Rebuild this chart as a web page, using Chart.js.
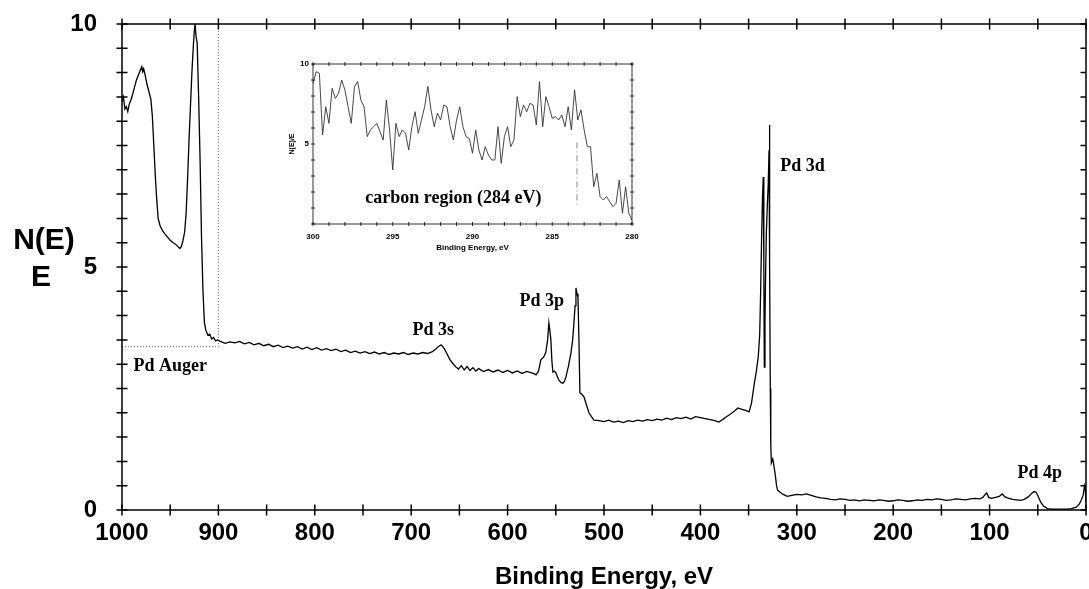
<!DOCTYPE html>
<html>
<head>
<meta charset="utf-8">
<script src="https://cdn.jsdelivr.net/npm/chart.js@4.4.1/dist/chart.umd.min.js"></script>
<style>
  body { margin: 0; background: #fff; }
  #wrap { position: relative; width: 1089px; height: 589px; }
  canvas { position: absolute; }
</style>
</head>
<body>
<div id="wrap">
  <canvas id="main" width="1089" height="589" style="left:0;top:0"></canvas>
  <canvas id="inset" width="400" height="230" style="left:260px;top:40px"></canvas>
</div>
<script>
// survey spectrum, binding energy (eV) and N(E)/E
var energy = [
  1000, 998.5, 997, 995.5, 994, 992.5, 991, 989, 987, 985, 983, 981, 979.5, 978.5, 977.5, 976, 974, 972, 970,
  968.5, 967, 965.5, 964, 962.5, 960.5, 958, 955.5, 953, 950, 947, 944.5, 942, 940, 938.5, 937, 935, 933.5,
  932, 930.5, 929, 927.5, 926, 925, 924.2, 923.2, 922, 920.5, 919, 917.5, 916, 914.5, 913, 911, 909, 907,
  905, 903, 901,
  898, 893, 888, 883, 878, 873, 868, 863, 858, 853, 848, 843, 838, 833, 828, 823, 818, 813, 808, 803, 798,
  793, 788, 783, 778, 773, 768, 763, 758, 753, 748, 743, 738, 733, 728, 723, 718, 713, 708, 703, 698, 693,
  688, 683, 678, 675, 672, 669, 666, 663, 660, 657, 654, 651, 648, 645, 642, 639, 636, 633, 630, 625, 620,
  615, 610, 605, 600, 595, 590, 585, 580,
  575, 572, 570.5, 568, 565.5, 562.5, 560.3, 558.5, 557.2, 556.2, 555.1, 554, 553, 551.5, 549.9, 548.5,
  546.8, 544.5, 542.6, 541, 539.5, 537, 534.3, 532.5, 531.2, 530, 529.1, 528, 527, 526, 525, 523, 520.8,
  518, 515.6, 513, 510.4,
  505, 500, 495, 490, 485, 480, 475, 470, 465, 460, 455, 450, 445, 440, 435, 430, 425, 420, 415, 410, 405,
  400, 395, 390, 385, 381, 377, 373, 369, 365, 361, 357, 353, 349.5, 347, 344, 342, 340, 338.5, 337.5,
  336.5, 335.5, 334.8, 334.2, 333.7, 333, 332.4, 331.6, 330.5, 329.6, 328.8, 328.4, 328, 327.5, 327, 326.4,
  325, 324, 322.5, 321, 320,
  317, 314, 310, 305, 300, 295, 290, 285, 280, 275, 270, 265, 260, 255, 250, 245, 240, 235, 230, 225, 220,
  215, 210, 205, 200, 195, 190, 185, 180, 175, 170, 165, 160, 155, 150, 145, 140, 135, 130, 125, 120, 115,
  110, 107, 105, 103, 101, 98, 94, 90, 87, 84, 80, 76, 72, 68, 64, 60, 57, 54, 52, 50, 47, 44, 40, 35, 30,
  25, 20, 15, 10, 7, 5, 3, 1.5, 0.8, 0
];
var intensity = [
  8.40, 8.50, 8.25, 8.30, 8.20, 8.35, 8.42, 8.55, 8.70, 8.85, 8.95, 9.05, 9.12, 9.02, 9.08, 8.95, 8.75, 8.60, 8.45,
  8.10, 7.50, 6.90, 6.40, 6.00, 5.85, 5.75, 5.68, 5.62, 5.55, 5.50, 5.47, 5.42, 5.38, 5.42, 5.52, 5.72, 6.10,
  6.80, 7.60, 8.30, 9.00, 9.55, 9.85, 10.0, 9.75, 9.60, 8.50, 7.20, 5.60, 4.50, 3.85, 3.70, 3.60, 3.62, 3.52,
  3.55, 3.48, 3.50,
  3.47, 3.43, 3.46, 3.44, 3.47, 3.42, 3.45, 3.40, 3.43, 3.38, 3.41, 3.36, 3.39, 3.34, 3.37, 3.33, 3.36, 3.31, 3.35, 3.30, 3.34,
  3.29, 3.32, 3.28, 3.31, 3.26, 3.29, 3.24, 3.27, 3.23, 3.26, 3.22, 3.25, 3.21, 3.24, 3.20, 3.23, 3.21, 3.24, 3.20, 3.23, 3.21,
  3.24, 3.22, 3.26, 3.30, 3.36, 3.40, 3.33, 3.22, 3.10, 3.02, 2.95, 2.90, 2.97, 2.88, 2.95, 2.87, 2.93, 2.86, 2.91, 2.85, 2.89,
  2.84, 2.88, 2.83, 2.87, 2.82, 2.86, 2.81, 2.85,
  2.82, 2.80, 2.78, 2.85, 3.09, 3.15, 3.25, 3.50, 3.85, 3.70, 3.50, 3.05, 2.84, 2.86, 2.82, 2.75,
  2.67, 2.62, 2.61, 2.65, 2.74, 2.95, 3.23, 3.50, 3.85, 4.20, 4.57, 4.45, 4.38, 3.50, 2.41, 2.38, 2.33,
  2.15, 2.00, 1.92, 1.85,
  1.84, 1.82, 1.85, 1.81, 1.83, 1.80, 1.84, 1.82, 1.85, 1.83, 1.86, 1.84, 1.87, 1.85, 1.89, 1.86, 1.90, 1.88, 1.91, 1.87, 1.92,
  1.90, 1.88, 1.86, 1.84, 1.81, 1.86, 1.92, 1.97, 2.03, 2.10, 2.07, 2.05, 2.02, 2.20, 2.61, 2.85, 3.15, 3.60, 4.50,
  5.60, 6.50, 6.85, 5.00, 2.94, 3.90, 4.80, 5.70, 6.30, 6.73, 7.40, 7.92, 5.00, 2.50, 1.35, 0.97,
  1.05, 0.95, 0.75, 0.50, 0.41,
  0.36, 0.32, 0.28, 0.30, 0.32, 0.31, 0.33, 0.30, 0.27, 0.25, 0.24, 0.22, 0.21, 0.23, 0.22, 0.20, 0.21, 0.19, 0.21, 0.20, 0.19,
  0.21, 0.20, 0.18, 0.19, 0.21, 0.20, 0.18, 0.19, 0.21, 0.20, 0.22, 0.21, 0.23, 0.22, 0.20, 0.21, 0.23, 0.22, 0.21, 0.23, 0.24,
  0.23, 0.26, 0.31, 0.35, 0.26, 0.24, 0.26, 0.28, 0.33, 0.27, 0.24, 0.22, 0.21, 0.20, 0.22, 0.27, 0.33, 0.38, 0.37, 0.30, 0.16, 0.08, 0.03, 0.02, 0.02,
  0.02, 0.02, 0.03, 0.06, 0.12, 0.20, 0.30, 0.50, 0.45, 0.15
];

// dotted window marking the Pd Auger region
var augerEnergy = [1000, 900, 900];
var augerLevel = [3.36, 3.36, 10];

// peak labels: text, energy, N(E)/E at the text baseline
var peakText = ['Pd Auger', 'Pd 3s', 'Pd 3p', 'Pd 3d', 'Pd 4p'];
var peakEnergy = [950, 677, 564.5, 294, 48];
var peakLevel = [2.86, 3.6, 4.2, 6.98, 0.66];

// inset: carbon region
var carbonEnergy = [
  300, 299.8, 299.6, 299.4, 299.2, 299, 298.8, 298.6, 298.4, 298.2, 298, 297.8, 297.6, 297.4, 297.2, 297,
  296.8, 296.6, 296.4, 296.2, 296, 295.8, 295.6, 295.4, 295.2, 295, 294.8, 294.6, 294.4, 294.2, 294,
  293.8, 293.6, 293.4, 293.2, 293, 292.8, 292.6, 292.4, 292.2, 292, 291.8, 291.6, 291.4, 291.2, 291,
  290.8, 290.6, 290.4, 290.2, 290, 289.8, 289.6, 289.4, 289.2, 289, 288.8, 288.6, 288.4, 288.2, 288,
  287.8, 287.6, 287.4, 287.2, 287, 286.8, 286.6, 286.4, 286.2, 286, 285.8, 285.6, 285.4, 285.2, 285,
  284.8, 284.6, 284.4, 284.2, 284, 283.8, 283.6, 283.4, 283.2, 283, 282.8, 282.6, 282.4, 282.2, 282,
  281.8, 281.6, 281.4, 281.2, 281, 280.8, 280.6, 280.4, 280.2, 280
];
var carbonIntensity = [
  8.79, 9.52, 9.42, 5.56, 7.33, 6.29, 8.48, 7.85, 8.17, 9.00, 8.38, 7.33, 6.29, 8.58, 8.90, 7.75,
  7.33, 5.46, 5.88, 6.08, 6.29, 5.77, 5.25, 7.75, 5.88, 3.38, 6.29, 5.46, 5.88, 5.67, 4.63,
  6.08, 7.02, 5.67, 6.50, 7.33, 8.60, 7.13, 6.08, 6.92, 6.50, 7.44, 7.33, 6.08, 5.25, 6.50,
  7.33, 6.08, 5.46, 5.35, 4.42, 5.88, 4.63, 4.00, 4.83, 4.31, 4.00, 4.00, 6.08, 3.79, 5.46,
  6.08, 4.83, 5.25, 7.96, 6.71, 7.44, 7.02, 7.54, 7.44, 6.19, 8.90, 6.08, 7.96, 7.33, 6.60,
  6.71, 6.50, 6.81, 6.08, 7.33, 5.88, 8.38, 6.50, 7.13, 5.88, 4.83, 4.83, 2.33, 3.17, 1.71,
  1.50, 1.71, 1.40, 1.08, 1.29, 2.75, 0.67, 2.33, 0.67, 0.25
];
var carbonMarkEnergy = [283.45, 283.45];
var carbonMarkLevel = [5.1, 1.1];

var sans = "'Liberation Sans', Arial, sans-serif";
var serif = "'Liberation Serif', 'Times New Roman', serif";

function pts(xs, ys) {
  return xs.map(function (x, i) { return { x: x, y: ys[i] }; });
}

// box round the plot with ticks that cross the axes
function frameTicks(len, width, rightOut) {
  return {
    id: 'frameTicks',
    afterDatasetsDraw: function (chart) {
      var ctx = chart.ctx, a = chart.chartArea, x = chart.scales.x, y = chart.scales.y;
      ctx.save();
      ctx.strokeStyle = '#000';
      ctx.lineWidth = width;
      ctx.strokeRect(a.left, a.top, a.right - a.left, a.bottom - a.top);
      ctx.beginPath();
      x.ticks.forEach(function (t) {
        var px = x.getPixelForValue(t.value);
        ctx.moveTo(px, a.bottom - len); ctx.lineTo(px, a.bottom + len);
        ctx.moveTo(px, a.top - len); ctx.lineTo(px, a.top + len);
      });
      y.ticks.forEach(function (t) {
        var py = y.getPixelForValue(t.value);
        ctx.moveTo(a.left - len, py); ctx.lineTo(a.left + len, py);
        ctx.moveTo(a.right - len, py); ctx.lineTo(a.right + (rightOut ? len : 0), py);
      });
      ctx.stroke();
      ctx.restore();
    }
  };
}

var mainText = {
  id: 'mainText',
  afterDraw: function (chart) {
    var ctx = chart.ctx, x = chart.scales.x, y = chart.scales.y;
    ctx.save();
    ctx.fillStyle = '#000';
    ctx.textAlign = 'center';
    ctx.textBaseline = 'middle';
    ctx.font = 'bold 30px ' + sans;
    ctx.fillText('N(E)', 44, 241);
    ctx.fillText('E', 41, 278);
    ctx.textBaseline = 'alphabetic';
    ctx.font = 'bold 18px ' + serif;
    peakText.forEach(function (t, i) {
      ctx.fillText(t, x.getPixelForValue(peakEnergy[i]), y.getPixelForValue(peakLevel[i]));
    });
    ctx.restore();
  }
};

var insetText = {
  id: 'insetText',
  afterDraw: function (chart) {
    var ctx = chart.ctx, x = chart.scales.x, y = chart.scales.y;
    ctx.save();
    ctx.fillStyle = '#000';
    ctx.textAlign = 'center';
    ctx.textBaseline = 'middle';
    ctx.font = 'bold 18px ' + serif;
    ctx.fillText('carbon region (284 eV)', x.getPixelForValue(291.2), y.getPixelForValue(1.6));
    ctx.restore();
  }
};

new Chart(document.getElementById('main'), {
  type: 'scatter',
  data: {
    datasets: [
      {
        data: pts(energy, intensity),
        showLine: true,
        borderColor: '#000',
        borderWidth: 1.3,
        pointRadius: 0,
        tension: 0
      },
      {
        data: pts(augerEnergy, augerLevel),
        showLine: true,
        borderColor: '#666',
        borderWidth: 1,
        borderDash: [1, 2],
        pointRadius: 0
      }
    ]
  },
  options: {
    responsive: false,
    animation: false,
    devicePixelRatio: 1,
    layout: { padding: { top: 24, right: 3, left: 0, bottom: 0 } },
    plugins: { legend: { display: false }, tooltip: { enabled: false } },
    scales: {
      x: {
        type: 'linear', reverse: true, min: 0, max: 1000,
        grid: { display: false, drawTicks: false },
        border: { display: false },
        ticks: {
          stepSize: 50, autoSkip: false, maxRotation: 0, padding: 9, color: '#000',
          font: { family: sans, size: 24, weight: 'bold' },
          callback: function (v) { return v % 100 === 0 ? v : ''; }
        },
        title: {
          display: true, text: 'Binding Energy, eV', color: '#000',
          padding: { top: 0, bottom: 0 },
          font: { family: sans, size: 24, weight: 'bold', lineHeight: 1 }
        },
        afterFit: function (s) { s.height = 79; s.paddingLeft = 0; s.paddingRight = 0; }
      },
      y: {
        min: 0, max: 10,
        grid: { display: false, drawTicks: false },
        border: { display: false },
        ticks: {
          stepSize: 0.5, autoSkip: false, padding: 25, color: '#000',
          font: { family: sans, size: 24, weight: 'bold' },
          callback: function (v) { return v % 5 === 0 ? v : ''; }
        },
        afterFit: function (s) { s.width = 122; s.paddingTop = 0; s.paddingBottom = 0; }
      }
    }
  },
  plugins: [frameTicks(5.5, 1.5, false), mainText]
});

new Chart(document.getElementById('inset'), {
  type: 'scatter',
  data: {
    datasets: [
      {
        data: pts(carbonEnergy, carbonIntensity),
        showLine: true,
        borderColor: '#333',
        borderWidth: 0.9,
        pointRadius: 0,
        tension: 0
      },
      {
        data: pts(carbonMarkEnergy, carbonMarkLevel),
        showLine: true,
        borderColor: '#888',
        borderWidth: 1,
        borderDash: [6, 3, 1, 3],
        pointRadius: 0
      }
    ]
  },
  options: {
    responsive: false,
    animation: false,
    devicePixelRatio: 1,
    layout: { padding: { top: 24, right: 28, left: 0, bottom: 0 } },
    plugins: { legend: { display: false }, tooltip: { enabled: false } },
    scales: {
      x: {
        type: 'linear', reverse: true, min: 280, max: 300,
        grid: { display: false, drawTicks: false },
        border: { display: false },
        ticks: {
          stepSize: 1, autoSkip: false, maxRotation: 0, padding: 8, color: '#000',
          font: { family: sans, size: 8, weight: 'bold' },
          callback: function (v) { return v % 5 === 0 ? v : ''; }
        },
        title: {
          display: true, text: 'Binding Energy, eV', color: '#000',
          padding: { top: 0, bottom: 18 },
          font: { family: sans, size: 8, weight: 'bold', lineHeight: 1 }
        },
        afterFit: function (s) { s.height = 46; s.paddingLeft = 0; s.paddingRight = 0; }
      },
      y: {
        min: 0, max: 10,
        grid: { display: false, drawTicks: false },
        border: { display: false },
        ticks: {
          stepSize: 1, autoSkip: false, padding: 4, color: '#000',
          font: { family: sans, size: 8, weight: 'bold' },
          callback: function (v) { return v === 5 || v === 10 ? v : ''; }
        },
        title: {
          display: true, text: 'N(E)/E', color: '#000',
          padding: { top: 29, bottom: 0 },
          font: { family: sans, size: 7, weight: 'bold', lineHeight: 1 }
        },
        afterFit: function (s) { s.width = 53; s.paddingTop = 0; s.paddingBottom = 0; }
      }
    }
  },
  plugins: [frameTicks(2, 0.8, true), insetText]
});
</script>
</body>
</html>
